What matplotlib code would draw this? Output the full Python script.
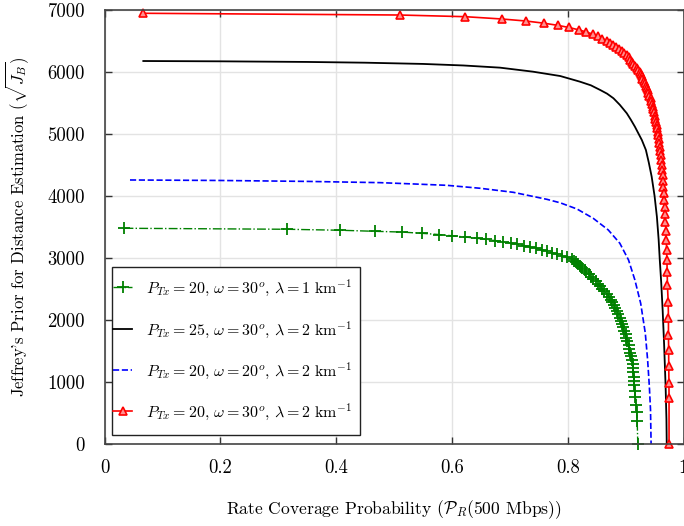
import matplotlib
matplotlib.use("Agg")
import matplotlib.pyplot as plt
from matplotlib.patches import Rectangle

plt.rcParams['font.family'] = 'serif'
plt.rcParams['font.serif'] = ['cmr10', 'DejaVu Serif']
plt.rcParams['mathtext.fontset'] = 'cm'
plt.rcParams['axes.formatter.use_mathtext'] = True

# green: P_Tx=20, w=30, lambda=1
green_x = [0.0345, 0.315, 0.407, 0.467, 0.513, 0.548, 0.577, 0.600, 0.623, 0.643,
           0.659, 0.674, 0.689, 0.702, 0.713, 0.725, 0.735, 0.745, 0.755, 0.764,
           0.772, 0.781, 0.790, 0.798, 0.807, 0.810, 0.814, 0.8175, 0.821, 0.825,
           0.829, 0.832, 0.836, 0.840, 0.844, 0.8485, 0.852, 0.856, 0.8595, 0.863,
           0.868, 0.8715, 0.874, 0.877, 0.880, 0.8825, 0.885, 0.887, 0.8895, 0.892,
           0.894, 0.896, 0.898, 0.900, 0.9015, 0.903, 0.905, 0.9065, 0.908, 0.9095,
           0.9107, 0.912, 0.9125, 0.9133, 0.914, 0.9145, 0.915, 0.916, 0.917, 0.918,
           0.919, 0.920, 0.921]
green_y = [3479, 3463, 3447, 3430, 3418, 3398, 3378, 3358, 3338, 3318,
           3299, 3280, 3260, 3240, 3220, 3199, 3178, 3156, 3133, 3110,
           3086, 3062, 3037, 3012, 2987, 2959, 2930, 2900, 2869, 2837,
           2804, 2770, 2735, 2699, 2662, 2624, 2585, 2545, 2504, 2462,
           2419, 2375, 2330, 2284, 2237, 2189, 2140, 2090, 2039, 1987,
           1934, 1880, 1825, 1769, 1712, 1654, 1595, 1535, 1474, 1412,
           1349, 1285, 1220, 1154, 1087, 1019, 950, 855, 750, 635,
           510, 370, 0]

# black: P_Tx=25, w=30, lambda=2
black_x = [0.067, 0.2, 0.35, 0.45, 0.55, 0.62, 0.683, 0.74, 0.787, 0.821,
           0.84, 0.856, 0.868, 0.879, 0.890, 0.902, 0.909, 0.916, 0.922, 0.928,
           0.935, 0.940, 0.945, 0.950, 0.954, 0.957, 0.959, 0.9615, 0.964, 0.9665,
           0.969, 0.9705, 0.971]
black_y = [6177, 6172, 6162, 6150, 6130, 6105, 6070, 6005, 5935, 5844,
           5785, 5710, 5650, 5576, 5470, 5334, 5230, 5118, 5010, 4903,
           4742, 4540, 4311, 4000, 3666, 3300, 2968, 2600, 2150, 1600,
           950, 400, 0]

# blue: P_Tx=20, w=20, lambda=2
blue_x = [0.044, 0.2, 0.35, 0.476, 0.533, 0.591, 0.649, 0.706, 0.764, 0.787,
          0.816, 0.844, 0.870, 0.890, 0.905, 0.916, 0.926, 0.934, 0.938, 0.941,
          0.943, 0.944]
blue_y = [4258, 4250, 4235, 4215, 4194, 4172, 4124, 4059, 3946, 3890,
          3790, 3640, 3452, 3237, 2968, 2645, 2269, 1785, 1355, 924,
          548, 0]

# red: P_Tx=20, w=30, lambda=2
red_x = [0.067, 0.510, 0.623, 0.686, 0.728, 0.759, 0.783, 0.802, 0.819, 0.832,
         0.844, 0.852, 0.860, 0.867, 0.873, 0.879, 0.8835, 0.888, 0.893, 0.898,
         0.902, 0.9055, 0.908, 0.911, 0.9135, 0.916, 0.919, 0.921, 0.924, 0.926,
         0.9275, 0.929, 0.931, 0.933, 0.9345, 0.9365, 0.938, 0.9395, 0.941, 0.943,
         0.944, 0.9455, 0.947, 0.948, 0.9495, 0.9505, 0.9515, 0.9525, 0.9535, 0.9545,
         0.9555, 0.9565, 0.957, 0.958, 0.959, 0.9598, 0.9605, 0.9613, 0.962, 0.963,
         0.9637, 0.9645, 0.9653, 0.966, 0.9667, 0.9673, 0.968, 0.9688, 0.9697, 0.9703,
         0.9708, 0.9713, 0.9718, 0.9722, 0.9735, 0.974, 0.974, 0.9743, 0.9745, 0.9748,
         0.975, 0.975]
red_y = [6947, 6919, 6892, 6855, 6822, 6787, 6752, 6718, 6680, 6645,
         6608, 6574, 6540, 6506, 6472, 6438, 6404, 6370, 6336, 6302,
         6268, 6234, 6200, 6166, 6132, 6098, 6064, 6030, 5996, 5962,
         5928, 5893, 5857, 5820, 5782, 5743, 5703, 5662, 5620, 5577,
         5533, 5488, 5442, 5395, 5347, 5298, 5248, 5197, 5145, 5092,
         5037, 4980, 4921, 4860, 4796, 4729, 4659, 4585, 4507, 4425,
         4339, 4248, 4152, 4050, 3942, 3827, 3705, 3575, 3436, 3288,
         3130, 2960, 2775, 2560, 2295, 2030, 1765, 1510, 1250, 990,
         737, 0]

labels = [r'$P_{Tx}=20,\,\omega=30^o,\,\lambda=1\ \mathrm{km}^{-1}$',
          r'$P_{Tx}=25,\,\omega=30^o,\,\lambda=2\ \mathrm{km}^{-1}$',
          r'$P_{Tx}=20,\,\omega=20^o,\,\lambda=2\ \mathrm{km}^{-1}$',
          r'$P_{Tx}=20,\,\omega=30^o,\,\lambda=2\ \mathrm{km}^{-1}$']

fig = plt.figure(figsize=(6.84, 5.26), dpi=100)
ax = fig.add_axes([0.1528, 0.156, 0.8465, 0.825])

ax.plot(green_x, green_y, color='green', ls='-.', lw=1.0, marker='+', ms=8,
        mew=1.3, clip_on=False, label=labels[0])
ax.plot(black_x, black_y, color='black', ls='-', lw=1.3, label=labels[1])
ax.plot(blue_x, blue_y, color='blue', ls='--', lw=1.2, label=labels[2])
ax.plot(red_x, red_y, color='red', ls='-', lw=1.2, marker='^', ms=5.8,
        mfc='#ff9090', mew=1.2, clip_on=False, label=labels[3])

ax.set_xlim(0, 1)
ax.set_ylim(0, 7000)
ax.set_xticks([0, 0.2, 0.4, 0.6, 0.8, 1])
ax.set_xticklabels(['0', '0.2', '0.4', '0.6', '0.8', '1'])
ax.set_yticks(range(0, 7001, 1000))
ax.set_yticklabels([str(v) for v in range(0, 7001, 1000)])
ax.grid(True, color='#e3e3e3', lw=1.0)
ax.set_axisbelow(True)
ax.tick_params(direction='in', length=5, width=1, color='#333333',
               top=True, right=True, labelsize=13.5)
ax.tick_params(axis='x', pad=11)
ax.tick_params(axis='y', pad=14)
for s in ax.spines.values():
    s.set_color('#444444')
    s.set_linewidth(1.2)

ax.set_xlabel(r'Rate Coverage Probability ($\mathcal{P}_R$(500 Mbps))',
              fontsize=12.6, labelpad=15)
ax.set_ylabel(r"Jeffrey's Prior for Distance Estimation ($\sqrt{J_B}$)",
              fontsize=12, labelpad=12)

# legend box drawn by hand: tight at the left, roomy at top and bottom
box = Rectangle((0.0121, 0.0207), 0.4283, 0.3871, transform=ax.transAxes,
                facecolor='white', edgecolor='#222222', lw=1.0, zorder=4)
ax.add_patch(box)
leg = ax.legend(loc='center left', bbox_to_anchor=(0.0155, 0.2166), borderaxespad=0,
                borderpad=0, fontsize=11.5, labelspacing=1.3, handlelength=1.15,
                handletextpad=0.9, frameon=False)
leg.set_zorder(5)

fig.savefig('out.png', dpi=100)
